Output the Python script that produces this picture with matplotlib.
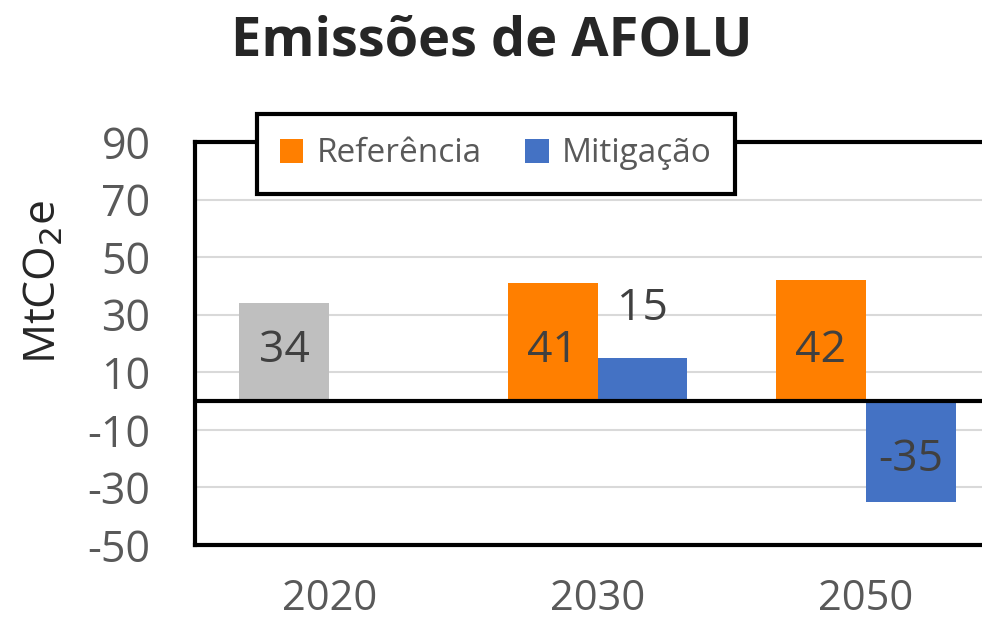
import matplotlib.pyplot as plt
import numpy as np

plt.rcParams['font.family'] = ['Open Sans', 'DejaVu Sans']

years = ['2020', '2030', '2050']
referencia = [34, 41, 42]
mitigacao = [np.nan, 15, -35]
ref_colors = ['#BFBFBF', '#FF7F00', '#FF7F00']
mit_color = '#4472C4'
yticks = [-50, -30, -10, 10, 30, 50, 70, 90]

fig = plt.figure(figsize=(9.82, 6.27), dpi=100)
ax = fig.add_axes([195 / 982, 82 / 627, 805 / 982, 403 / 627])

x = np.arange(len(years))
w = 0.335
b1 = ax.bar(x - w / 2, referencia, w, color=ref_colors, zorder=3)
b2 = ax.bar(x + w / 2, mitigacao, w, color=mit_color, zorder=3)

# value labels
txt = dict(fontsize=32, color='#404040', ha='center', va='center', zorder=4)
for xi, v in zip(x, referencia):
    ax.text(xi - w / 2, 17.5, str(v), **txt)
for xi, v in zip(x, mitigacao):
    if np.isnan(v):
        continue
    if v < 0:
        ax.text(xi + w / 2, v / 2 - 3, str(v), **txt)
    else:
        ax.text(xi + w / 2, v + 17, str(v), **txt)

ax.set_xlim(-0.5, 2.5)
ax.set_ylim(-50, 90)
ax.set_yticks(yticks)
ax.set_yticklabels([str(t) for t in yticks])
ax.set_xticks(x)
ax.set_xticklabels(years)
ax.tick_params(axis='both', length=0, labelsize=31, labelcolor='#595959')
ax.tick_params(axis='x', labelsize=30, pad=24)
ax.tick_params(axis='y', pad=32)
ax.grid(axis='y', color='#D9D9D9', linewidth=1.5, zorder=0)
ax.axhline(0, color='black', linewidth=3, zorder=5)
for s in ['left', 'top', 'bottom']:
    ax.spines[s].set_linewidth(3)
    ax.spines[s].set_color('black')
ax.spines['right'].set_visible(False)

fig.text(45 / 982, 345 / 627, 'MtCO$_2$e', rotation=90, fontsize=32,
         color='#262626', ha='center', va='center')
fig.text(492 / 982, 1 - 42 / 627, 'Emissões de AFOLU', fontsize=39,
         fontweight='bold', color='#262626', ha='center', va='center')

leg = fig.legend([b1[1], b2[1]], ['Referência', 'Mitigação'], loc='center',
                 bbox_to_anchor=(496 / 982, 1 - 154 / 627), ncol=2,
                 fontsize=24, frameon=True, fancybox=False,
                 handlelength=0.7, handleheight=0.7, columnspacing=1.3,
                 borderpad=0.7, handletextpad=0.4, framealpha=1)
leg.get_frame().set_edgecolor('black')
leg.get_frame().set_linewidth(3)
for t in leg.get_texts():
    t.set_color('#595959')

plt.savefig('out.png')
